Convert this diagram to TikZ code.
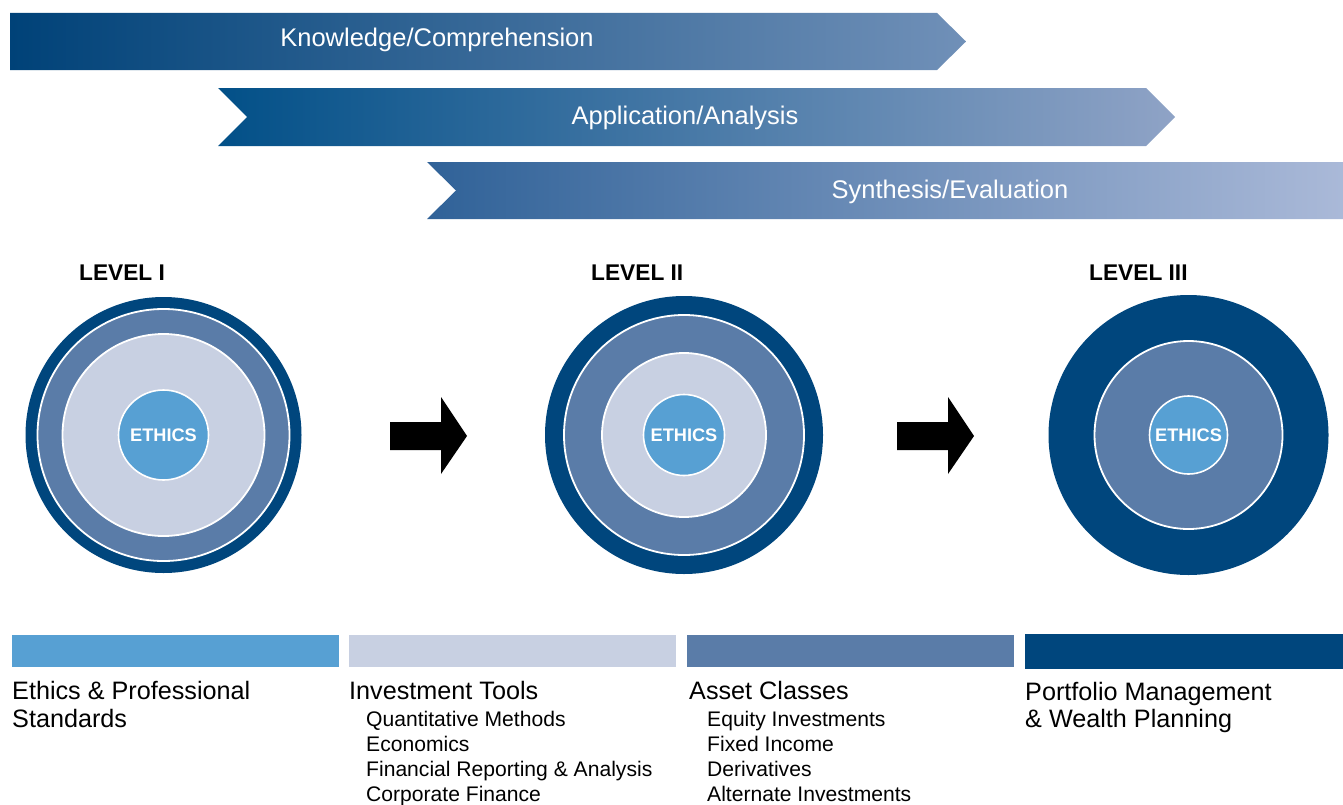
\documentclass[tikz,border=0pt]{standalone}
\usepackage{fontspec}
\setmainfont{Liberation Sans}
\definecolor{dkb}{RGB}{0,70,125}
\definecolor{mdb}{RGB}{90,124,168}
\definecolor{ltb}{RGB}{200,208,226}
\definecolor{ethc}{RGB}{87,160,211}
\definecolor{bOneL}{RGB}{0,66,120}
\definecolor{bOneR}{RGB}{112,144,184}
\definecolor{bTwoL}{RGB}{2,80,136}
\definecolor{bTwoR}{RGB}{143,163,198}
\definecolor{bThrL}{RGB}{48,98,152}
\definecolor{bThrR}{RGB}{170,185,216}
\begin{document}
\begin{tikzpicture}[x=1bp,y=-1bp,
  bantext/.style={text=white, font=\fontsize{25.5bp}{30bp}\selectfont, anchor=base, inner sep=0},
  lvl/.style={font=\bfseries\fontsize{22.7bp}{27bp}\selectfont, anchor=base west, inner sep=0},
  eth/.style={circle, fill=ethc, draw=white, line width=1.6bp, text=white,
    font=\bfseries\fontsize{18.2bp}{20bp}\selectfont, inner sep=0},
  ring/.style={draw=white, line width=1.8bp},
  blockarrow/.style={fill=black},
  leghead/.style={font=\fontsize{25.2bp}{29bp}\selectfont, anchor=base west, inner sep=0},
  legsub/.style={font=\fontsize{21.1bp}{25bp}\selectfont, anchor=base west, inner sep=0}
]
\useasboundingbox (0,0) rectangle (1343,804);

% banners
\shade[left color=bOneL, right color=bOneR]
  (10,13) -- (937,13) -- (966,41.5) -- (937,70) -- (10,70) -- cycle;
\shade[left color=bTwoL, right color=bTwoR]
  (218,88) -- (1146,88) -- (1175,117) -- (1146,146) -- (218,146) -- (247,117) -- cycle;
\shade[left color=bThrL, right color=bThrR]
  (427,162) -- (1343,162) -- (1343,219) -- (427,219) -- (456,190.5) -- cycle;
\node[bantext] (t1) at (437,47) {Knowledge/Comprehension};
\node[bantext] (t2) at (685,124) {Application/Analysis};
\node[bantext] (t3) at (950,198) {Synthesis/Evaluation};

% level labels
\node[lvl] (l1) at (79,280) {LEVEL I};
\node[lvl] (l2) at (591,280) {LEVEL II};
\node[lvl] (l3) at (1089,280) {LEVEL III};

% level I circles
\coordinate (c1) at (163.5,435);
\fill[dkb] (c1) circle (138);
\draw[ring, fill=mdb] (c1) circle (126);
\draw[ring, fill=ltb] (c1) circle (101);
\node[eth, minimum size=90bp] (e1) at (c1) {ETHICS};

% level II circles
\coordinate (c2) at (684,435);
\fill[dkb] (c2) circle (139);
\draw[ring, fill=mdb] (c2) circle (120);
\draw[ring, fill=ltb] (c2) circle (82);
\node[eth, minimum size=81bp] (e2) at (c2) {ETHICS};

% level III circles
\coordinate (c3) at (1188.5,435);
\fill[dkb] (c3) circle (140);
\draw[ring, fill=mdb] (c3) circle (94);
\node[eth, minimum size=78bp] (e3) at (c3) {ETHICS};

% arrows
\fill[blockarrow] (390,422) -- (441,422) -- (441,397) -- (467,436) -- (441,474) -- (441,450) -- (390,450) -- cycle;
\fill[blockarrow] (897,422) -- (948,422) -- (948,397) -- (974,436) -- (948,474) -- (948,450) -- (897,450) -- cycle;

% legend bars
\fill[ethc] (12,635) rectangle (339,667);
\fill[ltb] (349,635) rectangle (676,667);
\fill[mdb] (687,635) rectangle (1014,667);
\fill[dkb] (1025,634) rectangle (1343,669);

% legend texts
\node[leghead] (h1a) at (12,699) {Ethics \& Professional};
\node[leghead] (h1b) at (12,727) {Standards};

\node[leghead] (h2) at (349,699) {Investment Tools};
\node[legsub] (s21) at (366,726) {Quantitative Methods};
\node[legsub] (s22) at (366,751) {Economics};
\node[legsub] (s23) at (366,776) {Financial Reporting \& Analysis};
\node[legsub] (s24) at (366,801) {Corporate Finance};

\node[leghead] (h3) at (689,699) {Asset Classes};
\node[legsub] (s31) at (707,726) {Equity Investments};
\node[legsub] (s32) at (707,751) {Fixed Income};
\node[legsub] (s33) at (707,776) {Derivatives};
\node[legsub] (s34) at (707,801) {Alternate Investments};

\node[leghead] (h4a) at (1025,700) {Portfolio Management};
\node[leghead] (h4b) at (1025,727) {\& Wealth Planning};
\end{tikzpicture}
\end{document}
